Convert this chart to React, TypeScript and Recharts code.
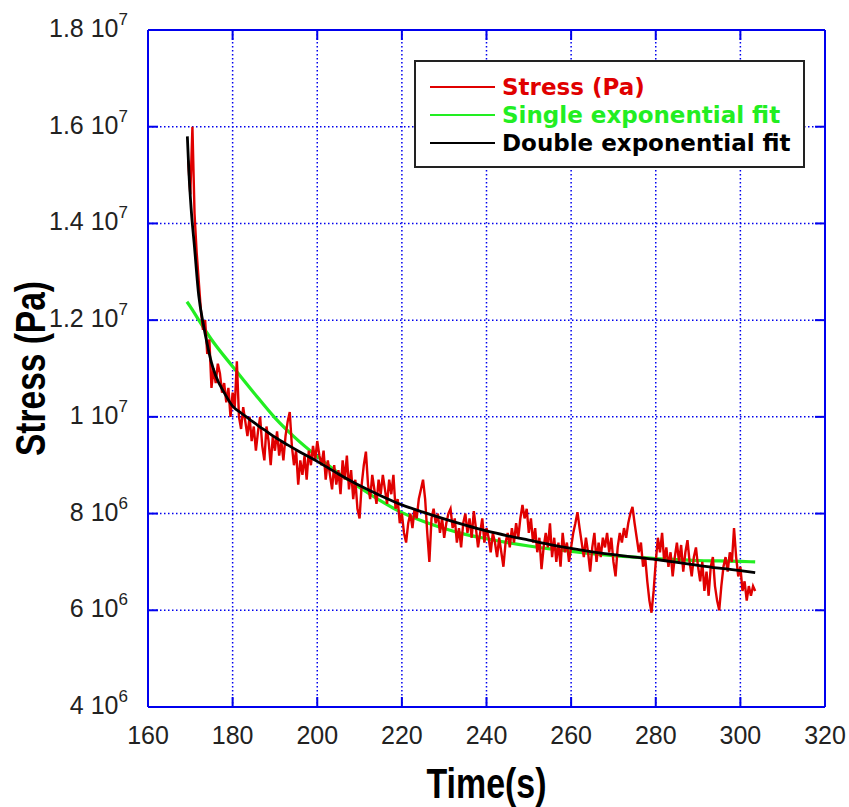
import React from 'react';
import { LineChart, Line, XAxis, YAxis, CartesianGrid, Legend } from 'recharts';

// time axis (s)
const xTicks = [160, 180, 200, 220, 240, 260, 280, 300, 320];
// stress axis, values in units of 10^6 Pa
const yTicks = [4, 6, 8, 10, 12, 14, 16, 18];
const yMantissa = ['4', '6', '8', '1', '1.2', '1.4', '1.6', '1.8'];
const yExponent = ['6', '6', '6', '7', '7', '7', '7', '7'];

// measured stress, one sample every 0.5 s starting at 169.5 s (10^6 Pa)
const stressT0 = 169.5;
const stressDt = 0.5;
const stress = [
  15.3, 14.6, 16.0, 14.2, 13.4, 12.8, 12.2, 11.8, 12.0, 11.3,
  11.6, 10.6, 11.0, 10.7, 11.1, 10.9, 10.5, 10.7, 10.3, 10.6,
  10.0, 10.5, 10.2, 11.15, 10.0, 9.75, 10.2, 9.9, 9.6, 10.0,
  9.5, 9.8, 9.3, 9.7, 10.0, 9.4, 9.1, 9.8, 9.5, 9.0,
  9.6, 9.3, 9.7, 9.2, 9.5, 9.1, 9.6, 9.9, 10.1, 9.4,
  9.0, 9.3, 8.6, 9.1, 8.8, 9.2, 8.7, 9.3, 9.0, 9.4,
  9.1, 9.5, 9.2, 9.0, 9.3, 8.7, 9.1, 8.8, 8.5, 9.0,
  8.6, 8.9, 8.4, 9.1, 8.7, 9.2, 8.5, 8.9, 8.3, 8.7,
  8.1, 7.9, 8.6, 9.0, 9.28, 8.6, 8.3, 8.8, 8.5, 8.2,
  8.7, 8.4, 8.8, 8.5, 8.2, 8.7, 8.4, 8.8, 8.1, 8.3,
  7.8, 8.0, 7.6, 7.4, 7.8, 8.0, 7.7, 8.1, 7.9, 8.3,
  8.5, 8.7, 8.3, 7.6, 7.0, 7.9, 8.1, 7.8, 8.0, 7.6,
  7.9, 7.5, 7.8, 8.0, 8.1, 7.7, 7.9, 7.4, 7.7, 7.3,
  7.8, 8.0, 7.6, 7.9, 7.5, 8.05, 7.7, 7.3, 7.6, 7.9,
  7.4, 7.7, 7.5, 7.2, 7.6, 7.4, 7.1, 7.5, 7.2, 6.9,
  7.4, 7.6, 7.3, 7.7, 7.4, 7.8, 7.5, 7.9, 8.18, 7.9,
  8.1, 7.6, 7.9, 7.4, 7.7, 7.2, 7.5, 6.85, 7.3, 7.6,
  7.3, 7.8, 7.1, 7.5, 7.0, 7.4, 6.9, 7.6, 7.2, 7.4,
  7.0, 7.3, 7.6, 7.8, 8.03, 7.7, 7.4, 7.1, 7.5, 7.2,
  6.8, 7.3, 7.6, 7.0, 7.4, 7.1, 7.5, 7.3, 7.6, 7.2,
  7.5, 7.0, 6.7, 7.3, 7.6, 7.4, 7.7, 7.5, 7.8, 8.0,
  8.14, 7.8, 7.5, 7.2, 7.4, 6.9, 7.1, 6.6, 6.2, 5.95,
  6.4, 7.0, 7.5, 7.2, 7.6, 7.0, 7.3, 6.9, 7.2, 6.7,
  7.1, 7.4, 7.0, 7.35, 6.8, 7.2, 7.45, 7.0, 6.7, 7.1,
  7.3, 6.9, 6.6, 7.0, 6.4, 6.8, 6.3, 6.9, 7.1, 6.5,
  6.2, 6.0, 6.5, 6.9, 7.1, 6.8, 7.2, 7.0, 7.7, 7.1,
  6.7, 6.9, 6.4, 6.6, 6.2, 6.5, 6.3, 6.5, 6.4,
];

// single exponential fit
const singleTime = [169.2, 170, 172, 175, 180, 185, 190, 195, 200, 205, 210, 215, 220, 225, 230, 235, 240, 245, 250, 255, 260, 265, 270, 275, 280, 285, 290, 295, 300, 303.5];
const singleFit = [12.38, 12.28, 12.0, 11.6, 11.04, 10.5, 9.98, 9.55, 9.18, 8.84, 8.54, 8.26, 8.02, 7.84, 7.69, 7.57, 7.48, 7.4, 7.33, 7.27, 7.22, 7.17, 7.13, 7.1, 7.07, 7.05, 7.03, 7.02, 7.01, 7.0];

// double exponential fit
const doubleTime = [169.3, 169.7, 170.2, 171, 172, 173, 174, 175, 176, 178, 180, 182, 184, 186, 188, 190, 193, 196, 200, 205, 210, 215, 220, 225, 230, 235, 240, 245, 250, 255, 260, 265, 270, 275, 280, 285, 290, 295, 300, 303.5];
const doubleFit = [15.8, 15.0, 14.3, 13.5, 12.5, 11.95, 11.5, 11.12, 10.85, 10.5, 10.22, 10.08, 9.95, 9.82, 9.7, 9.58, 9.42, 9.27, 9.08, 8.82, 8.58, 8.37, 8.18, 8.03, 7.89, 7.76, 7.64, 7.54, 7.45, 7.36, 7.28, 7.21, 7.15, 7.1, 7.05, 6.99, 6.93, 6.87, 6.82, 6.78];

const RED = '#e00000';
const GREEN = '#22ee22';
const BLACK = '#000000';
const BLUE = '#0000ee';
const FONT = '"Liberation Sans", Arial, sans-serif';

const legendItems = [
  { name: 'Stress (Pa)', color: RED },
  { name: 'Single exponential fit', color: GREEN },
  { name: 'Double exponential fit', color: BLACK },
];

const stressData = stress.map((v, i) => ({ t: stressT0 + i * stressDt, v }));
const singleData = singleTime.map((t, i) => ({ t, v: singleFit[i] }));
const doubleData = doubleTime.map((t, i) => ({ t, v: doubleFit[i] }));

const BottomTick = (props: any) => {
  const { x, y, payload } = props;
  return (
    <g>
      <line x1={x} y1={y} x2={x} y2={y - 10} stroke={BLUE} strokeWidth={2} />
      <text x={x} y={y + 37} textAnchor="middle" fontSize={25} fontFamily={FONT} fill="#222">
        {payload.value}
      </text>
    </g>
  );
};

const TopTick = (props: any) => {
  const { x, y } = props;
  return <line x1={x} y1={y} x2={x} y2={y + 10} stroke={BLUE} strokeWidth={2} />;
};

const LeftTick = (props: any) => {
  const { x, y, payload } = props;
  const i = yTicks.indexOf(payload.value);
  return (
    <g>
      <line x1={x} y1={y} x2={x + 10} y2={y} stroke={BLUE} strokeWidth={2} />
      <text x={x - 20} y={y + 7} textAnchor="end" fontSize={25} fontFamily={FONT} fill="#222">
        <tspan>{yMantissa[i]} 10</tspan>
        <tspan dy={-12} fontSize={17}>{yExponent[i]}</tspan>
      </text>
    </g>
  );
};

const RightTick = (props: any) => {
  const { x, y } = props;
  return <line x1={x} y1={y} x2={x - 10} y2={y} stroke={BLUE} strokeWidth={2} />;
};

const XTitle = (props: any) => {
  const { x, y, width } = props.viewBox;
  return (
    <text x={x + width / 2} y={y + 91} textAnchor="middle" fontSize={42} fontWeight="bold"
      fontFamily={FONT} fill="#000" textLength={120} lengthAdjust="spacingAndGlyphs">
      Time(s)
    </text>
  );
};

const YTitle = (props: any) => {
  const { x, y, height } = props.viewBox;
  const cx = x + 45;
  const cy = y + height / 2;
  return (
    <text x={cx} y={cy} transform={`rotate(-90, ${cx}, ${cy})`} textAnchor="middle" fontSize={42}
      fontWeight="bold" fontFamily={FONT} fill="#000" textLength={175} lengthAdjust="spacingAndGlyphs">
      Stress (Pa)
    </text>
  );
};

const renderLegend = () => (
  <div style={{
    boxSizing: 'border-box', width: '100%', height: '100%', border: '2px solid #222',
    background: '#fff', padding: '11px 0 0 14px',
  }}>
    {legendItems.map((item) => (
      <div key={item.name} style={{ display: 'flex', alignItems: 'center', height: 28 }}>
        <span style={{ width: 65, height: 2, background: item.color, marginRight: 7 }} />
        <span style={{ color: item.color, font: 'bold 23px "DejaVu Sans", Verdana, sans-serif', lineHeight: '28px', whiteSpace: 'nowrap' }}>
          {item.name}
        </span>
      </div>
    ))}
  </div>
);

export default function App() {
  return (
    <div style={{ position: 'absolute', left: 0, top: 0, width: 849, height: 807, background: '#fff', overflow: 'hidden' }}>
      <LineChart width={849} height={807} margin={{ top: 10, right: 0, bottom: 0, left: 0 }}>
        <CartesianGrid stroke={BLUE} strokeWidth={1.5} strokeDasharray="1.5 2.5" />
        <XAxis dataKey="t" type="number" domain={[160, 320]} ticks={xTicks} height={100}
          tickSize={0} tickMargin={0} axisLine={{ stroke: BLUE, strokeWidth: 2 }}
          tick={<BottomTick />} label={<XTitle />} allowDataOverflow />
        <XAxis xAxisId="top" orientation="top" dataKey="t" type="number" domain={[160, 320]} ticks={xTicks}
          height={20} tickSize={0} tickMargin={0} axisLine={{ stroke: BLUE, strokeWidth: 2 }}
          tick={<TopTick />} allowDataOverflow />
        <YAxis type="number" domain={[4, 18]} ticks={yTicks} width={148} tickSize={0} tickMargin={0}
          axisLine={{ stroke: BLUE, strokeWidth: 2 }} tick={<LeftTick />} label={<YTitle />} allowDataOverflow />
        <YAxis yAxisId="right" orientation="right" type="number" domain={[4, 18]} ticks={yTicks} width={24}
          tickSize={0} tickMargin={0} axisLine={{ stroke: BLUE, strokeWidth: 2 }} tick={<RightTick />} allowDataOverflow />
        <Line data={singleData} dataKey="v" name="Single exponential fit" stroke={GREEN} strokeWidth={3.2}
          dot={false} isAnimationActive={false} type="monotone" />
        <Line data={stressData} dataKey="v" name="Stress (Pa)" stroke={RED} strokeWidth={2.4}
          strokeLinejoin="miter" dot={false} isAnimationActive={false} type="linear" />
        <Line data={doubleData} dataKey="v" name="Double exponential fit" stroke={BLACK} strokeWidth={2.8}
          dot={false} isAnimationActive={false} type="monotone" />
        <Legend layout="vertical" align="center" verticalAlign="middle" content={renderLegend}
          wrapperStyle={{ left: 414, top: 60, width: 391, height: 108 }} />
      </LineChart>
    </div>
  );
}
